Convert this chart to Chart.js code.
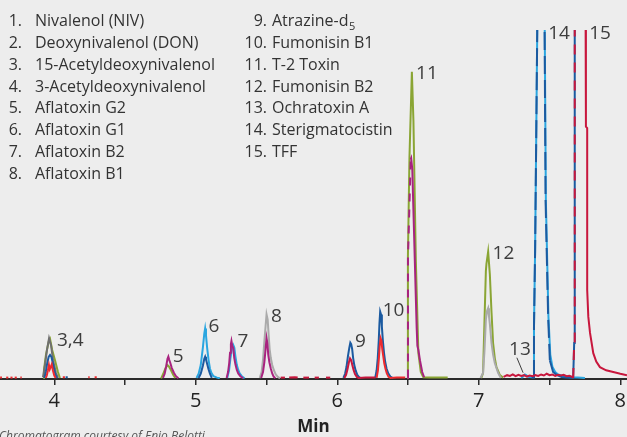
<!DOCTYPE html>
<html>
<head>
<meta charset="utf-8">
<script src="https://cdn.jsdelivr.net/npm/chart.js@4/dist/chart.umd.min.js"></script>
<style>
  html, body { margin: 0; padding: 0; background: #ededed; }
  #wrap { width: 627px; height: 437px; position: relative; overflow: hidden; }
</style>
</head>
<body>
<div id="wrap"><canvas id="chart" width="627" height="437"></canvas></div>
<script>
// compounds, numbered as in the printed key (_5 = subscript)
const compounds = [
  'Nivalenol (NIV)', 'Deoxynivalenol (DON)', '15-Acetyldeoxynivalenol', '3-Acetyldeoxynivalenol',
  'Aflatoxin G2', 'Aflatoxin G1', 'Aflatoxin B2', 'Aflatoxin B1',
  'Atrazine-d_5', 'Fumonisin B1', 'T-2 Toxin', 'Fumonisin B2', 'Ochratoxin A', 'Sterigmatocistin', 'TFF'
];

const majorTicks = [4, 5, 6, 7, 8];
const minorTicks = [4.5, 5.5, 6.5, 7.5];
const tickLabels = ['4', '5', '6', '7', '8'];

// peak labels: [text, retention time (min), signal]
const peakLabels = [
  ['3,4', 4.019, 11.5], ['5', 4.837, 6.7], ['6', 5.089, 15.3], ['7', 5.294, 11.2],
  ['8', 5.531, 18.3], ['9', 6.125, 11], ['10', 6.321, 19.9], ['11', 6.557, 87.8],
  ['12', 7.097, 36.4], ['13', 7.214, 8.9], ['14', 7.49, 99.5], ['15', 7.78, 99.5]
];
const leader13 = [[7.269, 6.1], [7.313, 1.8]];

// traces: [time (min), signal]; null breaks the line
const redTrace = [
  [3.617, 0.4], [3.63, 0.4], null, [3.66, 0.4], [3.675, 0.4], null, [3.69, 0.4], [3.705, 0.4], null,
  [3.72, 0.4], [3.735, 0.4], null, [3.76, 0.4], [3.77, 0.4], null,
  [3.94, 0.3], [3.947, 1], [3.955, 2.5], [3.962, 4], [3.968, 2.8], [3.975, 3.5], [3.982, 4.2], [3.99, 2.5], [4.0, 1], [4.01, 0.3], null,
  [4.06, 0.5], [4.075, 0.5], null, [4.24, 0.5], [4.25, 0.5], null, [4.285, 0.5], [4.3, 0.5], null,
  [6.278, 0.3], [6.287, 2.5], [6.294, 6], [6.3, 9.5], [6.306, 11.7], [6.312, 11], [6.318, 8.5], [6.325, 6.5],
  [6.332, 4.5], [6.34, 3], [6.35, 1.6], [6.362, 0.6], [6.375, 0.3], [6.42, 0.4], [6.48, 0.4]
];
const crimsonTrace = [
  [5.6, 0.4], [5.63, 0.4], null, [5.66, 0.4], [5.7, 0.5], [5.72, 0.4], null, [5.76, 0.4], [5.8, 0.4], null,
  [5.84, 0.4], [5.87, 0.4], null, [5.92, 0.4], [5.95, 0.4], null,
  [6.05, 0.3], [6.062, 1.2], [6.072, 2.8], [6.082, 4.8], [6.09, 5.9], [6.098, 5.4], [6.106, 4], [6.115, 2.6],
  [6.125, 1.4], [6.138, 0.6], [6.15, 0.3], [6.2, 0.4], [6.27, 0.4], null,
  [7.175, 0.6], [7.2, 1.1], [7.22, 0.9], [7.24, 1.3], [7.26, 0.8], [7.28, 1.2], [7.3, 0.9], [7.32, 1.1],
  [7.34, 0.7], [7.36, 1.0], [7.38, 0.8], [7.4, 1.1], [7.42, 0.9], [7.44, 1.3], [7.46, 1.0], [7.48, 1.5],
  [7.5, 1.1], [7.52, 1.3], [7.54, 0.9], [7.56, 1.2], [7.58, 1.0], [7.6, 1.2], [7.62, 0.8], [7.64, 0.9],
  [7.66, 0.6], [7.667, 0.3], [7.674, 10.3], [7.678, 100], [7.682, 135], [7.75, 135], [7.755, 100],
  [7.757, 72.3], [7.766, 71.9], [7.766, 25.5], [7.774, 17.8], [7.786, 13.2], [7.809, 7.4], [7.83, 5],
  [7.856, 3.4], [7.9, 2.5], [7.95, 2], [8.0, 1.5], [8.047, 1.1]
];
const magentaTrace = [
  [4.768, 0.3], [4.78, 1.5], [4.79, 3.5], [4.8, 5.8], [4.806, 6.4], [4.812, 5.5], [4.82, 4.6], [4.83, 3.2],
  [4.845, 1.8], [4.86, 0.8], [4.877, 0.2], null,
  [5.218, 0.3], [5.228, 2], [5.236, 4.5], [5.242, 7.5], [5.248, 10], [5.252, 10.9], [5.258, 9.5], [5.265, 8.8],
  [5.272, 6], [5.28, 4.2], [5.29, 2.6], [5.3, 1.6], [5.315, 0.8], [5.335, 0.2], null,
  [5.462, 0.3], [5.475, 2], [5.485, 5], [5.493, 8.5], [5.5, 11.7], [5.506, 10.2], [5.512, 7], [5.52, 4.8],
  [5.53, 3], [5.54, 1.6], [5.55, 0.7], [5.562, 0.2], null,
  [6.495, 0.2], [6.4985, 0.5], [6.4995, 35], [6.519, 63], [6.522, 63.3], [6.53, 60], [6.561, 14.6],
  [6.566, 9.5], [6.573, 8.3], [6.584, 5.4], [6.6, 2], [6.614, 0.5]
];
const darkBlueTrace = [
  [3.93, 0.3], [3.94, 2], [3.95, 4.5], [3.96, 6.3], [3.97, 6.9], [3.98, 6.3], [3.99, 4.5], [4.0, 2.6], [4.01, 1], [4.02, 0.3], null,
  [4.08, 0.5], [4.095, 0.5], null,
  [5.02, 0.3], [5.035, 1.5], [5.05, 3.8], [5.06, 5.8], [5.066, 6.4], [5.072, 5.6], [5.08, 4.4], [5.09, 2.8],
  [5.1, 1.5], [5.113, 0.3], null,
  [6.043, 0.3], [6.055, 1.5], [6.065, 3.5], [6.075, 6.5], [6.085, 9], [6.092, 10.4], [6.098, 10], [6.105, 8.6],
  [6.112, 6], [6.12, 4], [6.13, 2.4], [6.14, 1.3], [6.152, 0.6], [6.165, 0.2], null,
  [6.268, 0.3], [6.278, 2.5], [6.286, 6], [6.293, 11], [6.298, 16], [6.303, 19.3], [6.309, 18.5], [6.315, 15],
  [6.322, 11], [6.33, 7.5], [6.338, 5], [6.348, 3], [6.36, 1.6], [6.375, 0.7], [6.395, 0.2], null,
  [7.375, 0.3], [7.384, 0.5], [7.39, 15], [7.398, 37], [7.406, 70], [7.413, 100], [7.42, 135], [7.46, 135],
  [7.465, 100], [7.472, 51], [7.49, 17.8], [7.502, 5.4], [7.525, 2], [7.55, 1.2], [7.585, 0.6], [7.62, 0.4],
  [7.667, 0.3], [7.674, 10.3], [7.678, 100], [7.682, 135]
];
const lightBlueTrace = [
  [5.005, 0.3], [5.02, 1.5], [5.035, 4], [5.05, 9], [5.06, 13], [5.066, 14.5], [5.072, 12.5], [5.08, 9],
  [5.09, 5.5], [5.1, 3], [5.11, 1.8], [5.125, 0.8], [5.15, 0.4], [5.17, 0.2], null,
  [5.222, 0.3], [5.235, 2.5], [5.245, 6], [5.255, 8.5], [5.265, 9.7], [5.272, 9], [5.28, 6.5], [5.29, 4],
  [5.3, 2.6], [5.31, 1.6], [5.325, 0.8], [5.345, 0.2], null,
  [7.3, 0.3], [7.315, 0.8], [7.325, 1.3], [7.335, 1.1], [7.35, 0.6], [7.37, 0.5], [7.384, 0.5], [7.39, 15],
  [7.398, 37], [7.406, 70], [7.413, 100], [7.42, 135], [7.46, 135], [7.466, 100], [7.474, 51], [7.492, 18],
  [7.505, 7], [7.52, 3.5], [7.54, 2], [7.56, 1.3], [7.6, 0.8], [7.65, 0.5], [7.7, 0.4], [7.75, 0.3]
];
const grayTrace = [
  [5.452, 0.3], [5.465, 2], [5.475, 5.5], [5.485, 11], [5.493, 15], [5.5, 18.5], [5.508, 17], [5.515, 12.5],
  [5.522, 8.5], [5.53, 6], [5.54, 4], [5.552, 2.5], [5.565, 1.3], [5.58, 0.6], [5.595, 0.2], null,
  [7.012, 0.3], [7.03, 1.7], [7.04, 8], [7.05, 17], [7.058, 19.5], [7.066, 20.3], [7.072, 18], [7.078, 15.8],
  [7.09, 10.3], [7.101, 7], [7.113, 4.6], [7.137, 1.7], [7.156, 0.3]
];
const darkGrayTrace = [
  [3.92, 0.5], [3.934, 4], [3.948, 8.3], [3.963, 11.7], [3.977, 9.7], [3.991, 5.4], [4.012, 1.7], [4.026, 0.3]
];
const greenTrace = [
  [3.922, 0.3], [3.927, 2.6], [3.941, 6.9], [3.955, 9.7], [3.962, 10.9], [3.97, 11.5], [3.985, 8.3],
  [4.005, 5.4], [4.026, 2], [4.04, 0.3], null,
  [4.755, 0.2], [4.77, 1.5], [4.785, 3], [4.8, 4], [4.81, 3.6], [4.825, 2.5], [4.84, 1.2], [4.855, 0.3], null,
  [6.495, 0.2], [6.4985, 0.5], [6.4995, 35], [6.51, 63.6], [6.527, 88], [6.538, 74], [6.555, 34],
  [6.573, 7.4], [6.59, 2], [6.608, 0.5], [6.65, 0.4], [6.78, 0.4], null,
  [7.018, 0.3], [7.03, 1.7], [7.05, 31], [7.054, 33], [7.066, 36.5], [7.078, 30], [7.09, 19], [7.101, 10.3],
  [7.113, 6], [7.125, 3.4], [7.149, 1.1], [7.172, 0.4]
];

const FONT = '"Open Sans", "Noto Sans", sans-serif';

function toPoints(list) {
  return list.map((p, i) => p ? { x: p[0], y: p[1] } : { x: list[i - 1][0], y: null });
}

// where two traces run on top of each other the upper one is broken into dashes
function dashIn(ranges, dash) {
  return ctx => {
    const x = ctx.p0.parsed.x;
    return ranges.some(r => x >= r[0] && x < r[1]) ? dash : undefined;
  };
}

function trace(data, color, ranges, dash) {
  return {
    data: toPoints(data),
    borderColor: color,
    borderWidth: 2,
    pointRadius: 0,
    tension: 0,
    spanGaps: false,
    clip: 0,
    segment: ranges ? { borderDash: dashIn(ranges, dash) } : {}
  };
}

const textPlugin = {
  id: 'chromText',
  afterDraw(chart) {
    const ctx = chart.ctx;
    const xs = chart.scales.x, ys = chart.scales.y;
    ctx.save();

    // peak numbers
    ctx.fillStyle = '#3d3d3d';
    ctx.font = '19px ' + FONT;
    ctx.textAlign = 'left';
    ctx.textBaseline = 'alphabetic';
    peakLabels.forEach(([txt, t, v]) => {
      ctx.fillText(txt, xs.getPixelForValue(t), ys.getPixelForValue(v) + 6.8);
    });
    ctx.strokeStyle = '#3d3d3d';
    ctx.lineWidth = 1;
    ctx.beginPath();
    ctx.moveTo(xs.getPixelForValue(leader13[0][0]), ys.getPixelForValue(leader13[0][1]));
    ctx.lineTo(xs.getPixelForValue(leader13[1][0]), ys.getPixelForValue(leader13[1][1]));
    ctx.stroke();

    // key
    ctx.fillStyle = '#333';
    ctx.font = '16px ' + FONT;
    compounds.forEach((name, i) => {
      const col = i < 8 ? 0 : 1;
      const row = col ? i - 8 : i;
      const y = 26 + row * 21.86;
      const numX = col ? 267 : 22;
      const nameX = col ? 272 : 35;
      ctx.textAlign = 'right';
      ctx.fillText((i + 1) + '.', numX, y);
      ctx.textAlign = 'left';
      const parts = name.split('_');
      ctx.fillText(parts[0], nameX, y);
      if (parts[1]) {
        const w = ctx.measureText(parts[0]).width;
        ctx.font = '11px ' + FONT;
        ctx.fillText(parts[1], nameX + w + 0.5, y + 4);
        ctx.font = '16px ' + FONT;
      }
    });

    // credit line, cut by the bottom edge
    ctx.fillStyle = '#555';
    ctx.font = 'italic 12px ' + FONT;
    ctx.textAlign = 'left';
    ctx.fillText('Chromatogram courtesy of Enio Belotti', -1, 440);
    ctx.restore();
  }
};

new Chart(document.getElementById('chart'), {
  type: 'line',
  data: {
    datasets: [
      trace(redTrace, '#ee2a2e'),
      trace(crimsonTrace, '#c8173d', [[7.667, 7.682]], [10, 8]),
      trace(magentaTrace, '#a8237f', [[6.498, 6.5]], [8, 8]),
      trace(darkBlueTrace, '#1b5aa0', [[7.384, 7.5]], [18, 6]),
      trace(darkGrayTrace, '#6f6f6f'),
      trace(grayTrace, '#aaaaaa'),
      trace(lightBlueTrace, '#2aa6e0'),
      trace(greenTrace, '#8aa534')
    ]
  },
  options: {
    responsive: false,
    animation: false,
    devicePixelRatio: 1,
    layout: { padding: { top: 30, left: 0, right: 0, bottom: 0 } },
    plugins: { legend: { display: false }, tooltip: { enabled: false } },
    scales: {
      x: {
        type: 'linear',
        position: 'bottom',
        min: 3.6163,
        max: 8.0473,
        z: 1,
        afterBuildTicks: scale => {
          scale.ticks = majorTicks.concat(minorTicks).sort((a, b) => a - b).map(v => ({ value: v }));
        },
        afterFit: scale => {
          scale.paddingLeft = 0;
          scale.paddingRight = 0;
          scale.height = 58; // axis line sits at y = 379
        },
        ticks: {
          autoSkip: false,
          maxRotation: 0,
          padding: 4.5,
          color: '#222',
          font: { family: FONT, size: 20 },
          callback: v => {
            const i = majorTicks.indexOf(v);
            return i >= 0 ? tickLabels[i] : '';
          }
        },
        grid: { drawOnChartArea: false, drawTicks: true, tickLength: 6, color: '#2b2b2b', lineWidth: 1.5 },
        border: { display: true, color: '#2b2b2b', width: 2 },
        title: {
          display: true,
          text: 'Min',
          color: '#222',
          font: { family: FONT, size: 17, weight: 'bold' },
          padding: { top: 3.1, bottom: 0 }
        }
      },
      y: { display: false, min: 0, max: 100 }
    }
  },
  plugins: [textPlugin]
});
</script>
</body>
</html>
